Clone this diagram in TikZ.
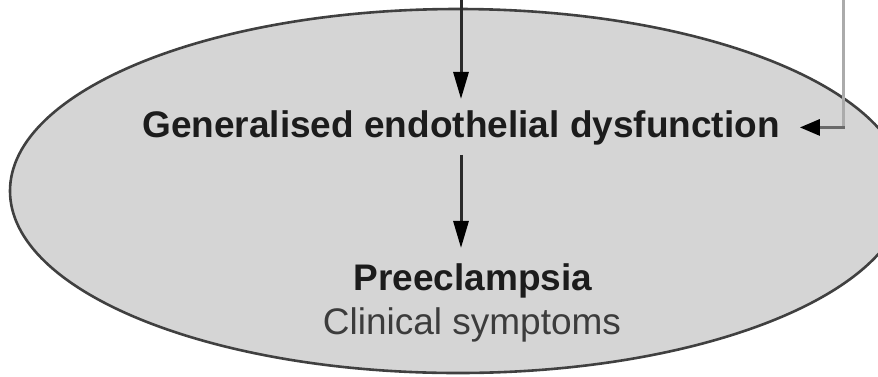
\documentclass[tikz,border=0pt]{standalone}
\usepackage{fontspec}
\setmainfont{Liberation Sans}
\usetikzlibrary{arrows.meta,shapes.geometric}
\definecolor{fillgray}{HTML}{D5D5D5}
\definecolor{edgegray}{HTML}{404040}
\definecolor{linedark}{HTML}{2A2A2A}
\definecolor{fbgray}{HTML}{ABABAB}
\definecolor{fbdark}{HTML}{6A6A6A}
\definecolor{txtdark}{HTML}{1C1C1C}
\definecolor{txtsub}{HTML}{3C3C3C}
\tikzset{
  bigtext/.style={font=\fontsize{37}{40}\selectfont\bfseries, text=txtdark, inner sep=0pt, anchor=base},
  subtext/.style={font=\fontsize{37}{40}\selectfont, text=txtsub, inner sep=0pt, anchor=base},
  flow/.style={draw=linedark, line width=3pt, -{Triangle[length=27pt,width=15pt,color=black]}},
  fbline/.style={draw=fbgray, line width=3pt},
  fbarrow/.style={draw=fbdark, line width=3pt, -{Triangle[length=20pt,width=16pt,color=black]}}
}
\begin{document}
\begin{tikzpicture}[x=1pt,y=-1pt]
\useasboundingbox (0,0) rectangle (878,376);
\clip (0,0) rectangle (878,376);
\node[ellipse, draw=edgegray, line width=2.6pt, fill=fillgray, minimum width=896pt, minimum height=364pt, inner sep=0pt] (oval) at (458,191) {};
\node[bigtext] (main) at (461,137) {Generalised endothelial dysfunction};
\node[bigtext] (pre) at (473,290) {Preeclampsia};
\node[subtext] (clin) at (472,334) {Clinical symptoms};
\coordinate (top) at (461,0);
\coordinate (fbtop) at (843,0);
\coordinate (fbcorner) at (fbtop |- main.east);
\draw[flow, shorten >=11pt] (top) -- (top |- main.north);
\draw[flow, shorten <=10pt, shorten >=15pt] (main.south -| top) -- (pre.north -| top);
\draw[fbline] (fbtop) -- ([yshift=1.5pt]fbcorner);
\draw[fbarrow, shorten >=20pt] ([xshift=1.5pt]fbcorner) -- (main.east);
\end{tikzpicture}
\end{document}
